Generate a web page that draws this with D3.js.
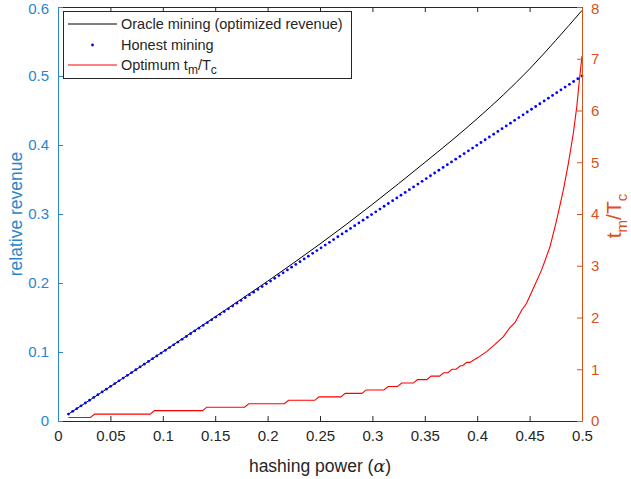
<!DOCTYPE html>
<html>
<head>
<meta charset="utf-8">
<script src="https://cdn.jsdelivr.net/npm/d3@7"></script>
<style>
  html, body { margin: 0; padding: 0; background: #fff; }
  svg { display: block; font-family: "Liberation Sans", Arial, Helvetica, sans-serif; }
</style>
</head>
<body>
<svg id="chart" width="631" height="479"></svg>
<script>
// ---------------- data ----------------
// hashing power grid (x values of the dotted "Honest mining" series)
const alphaGrid = [0.0100,0.0140,0.0180,0.0220,0.0261,0.0301,0.0341,0.0381,0.0421,0.0461,
0.0502,0.0542,0.0582,0.0622,0.0662,0.0702,0.0743,0.0783,0.0823,0.0863,
0.0903,0.0943,0.0984,0.1024,0.1064,0.1104,0.1144,0.1184,0.1225,0.1265,
0.1305,0.1345,0.1385,0.1425,0.1466,0.1506,0.1546,0.1586,0.1626,0.1666,
0.1707,0.1747,0.1787,0.1827,0.1867,0.1907,0.1948,0.1988,0.2028,0.2068,
0.2108,0.2148,0.2189,0.2229,0.2269,0.2309,0.2349,0.2389,0.2430,0.2470,
0.2510,0.2550,0.2590,0.2630,0.2670,0.2711,0.2751,0.2791,0.2831,0.2871,
0.2911,0.2952,0.2992,0.3032,0.3072,0.3112,0.3152,0.3193,0.3233,0.3273,
0.3313,0.3353,0.3393,0.3434,0.3474,0.3514,0.3554,0.3594,0.3634,0.3675,
0.3715,0.3755,0.3795,0.3835,0.3875,0.3916,0.3956,0.3996,0.4036,0.4076,
0.4116,0.4157,0.4197,0.4237,0.4277,0.4317,0.4357,0.4398,0.4438,0.4478,
0.4518,0.4558,0.4598,0.4639,0.4679,0.4719,0.4759,0.4799,0.4839,0.4880,
0.4920,0.4960,0.5000];
// honest mining relative revenue (equals hashing power)
const honestRevenue = [0.0100,0.0140,0.0180,0.0220,0.0261,0.0301,0.0341,0.0381,0.0421,0.0461,
0.0502,0.0542,0.0582,0.0622,0.0662,0.0702,0.0743,0.0783,0.0823,0.0863,
0.0903,0.0943,0.0984,0.1024,0.1064,0.1104,0.1144,0.1184,0.1225,0.1265,
0.1305,0.1345,0.1385,0.1425,0.1466,0.1506,0.1546,0.1586,0.1626,0.1666,
0.1707,0.1747,0.1787,0.1827,0.1867,0.1907,0.1948,0.1988,0.2028,0.2068,
0.2108,0.2148,0.2189,0.2229,0.2269,0.2309,0.2349,0.2389,0.2430,0.2470,
0.2510,0.2550,0.2590,0.2630,0.2670,0.2711,0.2751,0.2791,0.2831,0.2871,
0.2911,0.2952,0.2992,0.3032,0.3072,0.3112,0.3152,0.3193,0.3233,0.3273,
0.3313,0.3353,0.3393,0.3434,0.3474,0.3514,0.3554,0.3594,0.3634,0.3675,
0.3715,0.3755,0.3795,0.3835,0.3875,0.3916,0.3956,0.3996,0.4036,0.4076,
0.4116,0.4157,0.4197,0.4237,0.4277,0.4317,0.4357,0.4398,0.4438,0.4478,
0.4518,0.4558,0.4598,0.4639,0.4679,0.4719,0.4759,0.4799,0.4839,0.4880,
0.4920,0.4960,0.5000];

// oracle mining (optimized revenue)
const oracleAlpha   = [0.01,0.025,0.05,0.075,0.10,0.125,0.15,0.175,0.20,0.225,0.25,0.275,0.30,0.325,0.35,0.375,0.40,0.425,0.45,0.475,0.50];
const oracleRevenue = [0.010,0.025,0.050,0.075,0.1002,0.1256,0.151,0.1767,0.2026,0.2293,0.2566,0.2848,0.3140,0.3440,0.3747,0.4057,0.4382,0.4727,0.5102,0.5517,0.5950];

// optimum t_m / T_c (right axis)
const optAlpha = [0.01,0.031,0.035,0.088,0.092,0.138,0.142,0.178,0.182,0.216,0.220,0.245,0.249,0.270,0.274,0.290,
  0.294,0.311,0.315,0.324,0.328,0.339,0.343,0.352,0.356,0.364,0.368,0.372,0.376,0.380,0.384,0.386,0.390,0.393,
  0.401,0.409,0.417,0.425,0.431,0.436,0.4424,0.447,0.4535,0.4615,0.4695,0.4758,0.4822,0.487,0.4917,0.495,0.4975,0.500];
const optRatio = [0.0667,0.0667,0.1333,0.1333,0.2,0.2,0.2667,0.2667,0.3333,0.3333,0.4,0.4,0.4667,0.4667,0.5333,0.5333,
  0.6,0.6,0.6667,0.6667,0.7333,0.7333,0.8,0.8,0.8667,0.8667,0.9333,0.9333,1.0,1.0,1.0667,1.0667,1.1333,1.1333,
  1.23,1.34,1.48,1.63,1.80,1.90,2.14,2.27,2.56,2.92,3.37,3.88,4.46,4.98,5.56,6.07,6.59,7.05];

const xTicks = [0,0.05,0.1,0.15,0.2,0.25,0.3,0.35,0.4,0.45,0.5];
const yLeftTicks = [0,0.1,0.2,0.3,0.4,0.5,0.6];
const yRightTicks = [0,1,2,3,4,5,6,7,8];
const legendLabels = ["Oracle mining (optimized revenue)", "Honest mining", "Optimum t_m/T_c"];

// ---------------- drawing ----------------
const svg = d3.select("#chart");
const L = 58, R = 582, T = 7, B = 421;
const blueAx = "#2a86cc", orangeAx = "#D95319", dark = "#262626";

const x = d3.scaleLinear().domain([0, 0.5]).range([L, R]);
const yL = d3.scaleLinear().domain([0, 0.6]).range([B, T]);
const yR = d3.scaleLinear().domain([0, 8]).range([B, T]);

// data marks
const oracleData = oracleAlpha.map((a, i) => [a, oracleRevenue[i]]);
svg.append("path")
  .datum(oracleData)
  .attr("fill", "none").attr("stroke", "#000").attr("stroke-width", 1)
  .attr("d", d3.line().x(d => x(d[0])).y(d => yL(d[1])).curve(d3.curveMonotoneX));

svg.append("g").selectAll("circle")
  .data(alphaGrid.map((a, i) => [a, honestRevenue[i]]))
  .join("circle")
  .attr("cx", d => x(d[0])).attr("cy", d => yL(d[1]))
  .attr("r", 1.4).attr("fill", "#0000ff");

const optData = optAlpha.map((a, i) => [a, optRatio[i]]);
svg.append("path")
  .datum(optData)
  .attr("fill", "none").attr("stroke", "#ff0000").attr("stroke-width", 1.1)
  .attr("d", d3.line().x(d => x(d[0])).y(d => yR(d[1])));

// axes
function styleAxis(g, color, fontSize) {
  g.select(".domain").attr("stroke", color).attr("stroke-width", 1);
  g.selectAll(".tick line").attr("stroke", color);
  g.selectAll(".tick text").attr("fill", color).attr("font-size", fontSize)
    .attr("font-family", "'Liberation Sans', Arial, sans-serif");
}

const fmt = d => String(d);

const gx = svg.append("g").attr("transform", `translate(0,${B})`)
  .call(d3.axisBottom(x).tickValues(xTicks).tickFormat(fmt).tickSizeInner(-5).tickSizeOuter(0).tickPadding(9));
styleAxis(gx, dark, 15);

const gxt = svg.append("g").attr("transform", `translate(0,${T})`)
  .call(d3.axisTop(x).tickValues(xTicks).tickFormat("").tickSizeInner(-5).tickSizeOuter(0));
styleAxis(gxt, dark, 15);

const gl = svg.append("g").attr("transform", `translate(${L},0)`)
  .call(d3.axisLeft(yL).tickValues(yLeftTicks).tickFormat(fmt).tickSizeInner(-5).tickSizeOuter(0).tickPadding(9));
styleAxis(gl, blueAx, 15);

const gr = svg.append("g").attr("transform", `translate(${R},0)`)
  .call(d3.axisRight(yR).tickValues(yRightTicks).tickFormat(fmt).tickSizeInner(-5).tickSizeOuter(0).tickPadding(9));
styleAxis(gr, orangeAx, 15);

// keep the topmost tick labels fully inside the canvas
gl.selectAll(".tick text").filter(d => d === 0.6).attr("dy", "0.45em");
gr.selectAll(".tick text").filter(d => d === 8).attr("dy", "0.45em");

// axis labels
const xl = svg.append("text")
  .attr("x", (L + R) / 2).attr("y", 472)
  .attr("text-anchor", "middle").attr("fill", dark).attr("font-size", 17.5);
xl.append("tspan").text("hashing power (");
xl.append("tspan").attr("font-family", "'DejaVu Serif', 'Liberation Serif', serif").attr("font-style", "italic").text("α");
xl.append("tspan").text(")");

svg.append("text")
  .attr("transform", `translate(22,${(T + B) / 2}) rotate(-90)`)
  .attr("text-anchor", "middle").attr("fill", blueAx).attr("font-size", 17.5)
  .text("relative revenue");

const rl = svg.append("text")
  .attr("transform", `translate(621,${(T + B) / 2 + 2}) rotate(-90)`)
  .attr("text-anchor", "middle").attr("fill", orangeAx).attr("font-size", 21);
rl.append("tspan").text("t");
rl.append("tspan").attr("font-size", 15).attr("dy", 6).text("m");
rl.append("tspan").attr("dy", -6).text("/T");
rl.append("tspan").attr("font-size", 15).attr("dy", 6).text("c");

// legend
const lg = svg.append("g");
lg.append("rect").attr("x", 63.5).attr("y", 11.5).attr("width", 288).attr("height", 67)
  .attr("fill", "#fff").attr("stroke", dark).attr("stroke-width", 1);
const rowsY = [24, 45, 65];
lg.append("line").attr("x1", 68).attr("x2", 117).attr("y1", rowsY[0]).attr("y2", rowsY[0])
  .attr("stroke", "#000").attr("stroke-width", 1);
lg.append("circle").attr("cx", 92.5).attr("cy", rowsY[1]).attr("r", 1.4).attr("fill", "#0000ff");
lg.append("line").attr("x1", 68).attr("x2", 117).attr("y1", rowsY[2]).attr("y2", rowsY[2])
  .attr("stroke", "#ff0000").attr("stroke-width", 1.1);

legendLabels.forEach((lab, i) => {
  const t = lg.append("text").attr("x", 121).attr("y", rowsY[i] + 5)
    .attr("fill", dark).attr("font-size", 14.5);
  if (lab.includes("_")) {
    t.append("tspan").text("Optimum t");
    t.append("tspan").attr("font-size", 12).attr("dy", 4).text("m");
    t.append("tspan").attr("dy", -4).text("/T");
    t.append("tspan").attr("font-size", 12).attr("dy", 4).text("c");
  } else {
    t.text(lab);
  }
});
</script>
</body>
</html>
